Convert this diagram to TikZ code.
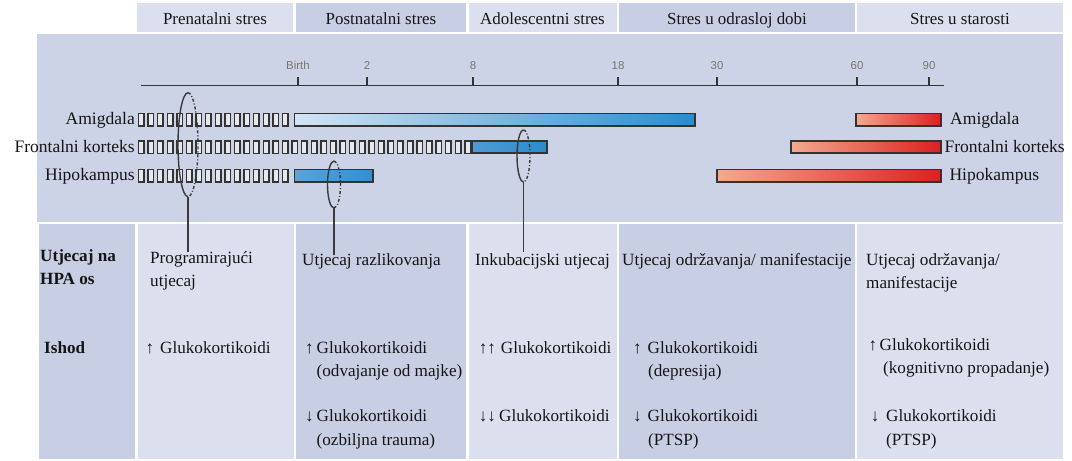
\documentclass[tikz,border=0pt]{standalone}
\usepackage{fontspec}
\setmainfont{Liberation Serif}
\newfontfamily\axisfont{Liberation Sans}
\definecolor{ink}{HTML}{151515}
\definecolor{panel}{HTML}{CDD3E6}
\definecolor{cl}{HTML}{DCE0EE}
\definecolor{cd}{HTML}{C8CEE3}
\definecolor{outl}{HTML}{333333}
\definecolor{boxc}{HTML}{E6E8EF}
\definecolor{linec}{HTML}{3A3A3A}
\definecolor{tickc}{HTML}{7D7470}
\definecolor{bA}{HTML}{D2E4F4}
\definecolor{bB}{HTML}{2A8CCC}
\definecolor{bC}{HTML}{4E9BD3}
\definecolor{bD}{HTML}{5DA3D6}
\definecolor{bE}{HTML}{338FCD}
\definecolor{rA}{HTML}{F3A98E}
\definecolor{rB}{HTML}{DC2020}
\begin{document}
\begin{tikzpicture}[x=1bp,y=-1bp,
  txt/.style={font=\fontsize{17.2}{21}\selectfont, text=ink, inner sep=0pt, anchor=base west},
  hdr/.style={font=\fontsize{17}{20}\selectfont, text=ink, inner sep=0pt, anchor=base},
  lbl/.style={font=\fontsize{17.6}{21}\selectfont, text=ink, inner sep=0pt},
  tck/.style={font=\axisfont\fontsize{11.5}{13}\selectfont, text=tickc, inner sep=0pt, anchor=base},
  seg/.style={draw=outl, line width=1.5bp, fill=boxc},
  bar/.style={draw=outl, line width=1.6bp},
  ring/.style={draw=linec, line width=1.4bp},
  ringdash/.style={draw=linec, line width=1.4bp, dash pattern=on 3bp off 2bp on 1bp off 2bp},
  stem/.style={draw=linec, line width=1.6bp},
  axisline/.style={draw=outl, line width=1.5bp}]
\useasboundingbox (0,0) rectangle (1072,461);
% header cells
\fill[cl] (136.7,3.3) rectangle (293,32.3);
\fill[cd] (295.5,3.3) rectangle (466,32.3);
\fill[cl] (468.5,3.3) rectangle (616.5,32.3);
\fill[cd] (619,3.3) rectangle (855,32.3);
\fill[cl] (857,3.3) rectangle (1062.7,32.3);
% panel
\fill[panel] (37.3,34.3) rectangle (1062.7,221.7);
% bottom cells
\fill[cd] (38.5,224) rectangle (135,459.3);
\fill[cl] (138,224) rectangle (293.5,459.3);
\fill[cd] (296,224) rectangle (466,459.3);
\fill[cl] (468.5,224) rectangle (616.5,459.3);
\fill[cd] (619,224) rectangle (855,459.3);
\fill[cl] (857,224) rectangle (1062.7,459.3);
% header texts
\node[hdr] (h1) at (215,25) {Prenatalni stres};
\node[hdr] (h2) at (381,25) {Postnatalni stres};
\node[hdr] (h3) at (542.5,25) {Adolescentni stres};
\node[hdr] (h4) at (737,25) {Stres u odrasloj dobi};
\node[hdr] (h5) at (960,25) {Stres u starosti};
% axis
\draw[axisline] (140.7,85.7) -- (944,85.7);
\foreach \xx/\tl/\nm in {298/Birth/tb,367/2/t2,473/8/t8,618/18/t18,717/30/t30,857/60/t60,929/90/t90}{
  \draw[axisline] (\xx,85.7) -- (\xx,76.7);
  \node[tck] (\nm) at (\xx,69.5) {\tl};
}
% segmented boxes
\foreach \i in {0,...,15}{\draw[seg] ({138.5+9.6*\i},113.5) rectangle ++(5.5,12.5);}
\foreach \i in {0,...,34}{\draw[seg] ({138.5+9.6*\i},140.8) rectangle ++(5.5,12.5);}
\foreach \i in {0,...,15}{\draw[seg] ({138.5+9.6*\i},169.5) rectangle ++(5.5,12.5);}
% blue bars
\draw[bar, left color=bA, right color=bB] (294.3,113.5) rectangle (695,126);
\draw[bar, left color=bC, right color=bB] (471.7,140.8) rectangle (547,153.3);
\draw[bar, left color=bD, right color=bE] (294.3,169.5) rectangle (372.7,182);
% red bars
\draw[bar, left color=rA, right color=rB] (856,113.5) rectangle (941,126);
\draw[bar, left color=rA, right color=rB] (791,140.8) rectangle (941,153.3);
\draw[bar, left color=rA, right color=rB] (717,169.5) rectangle (941,182);
% row labels
\node[lbl, anchor=base east] (la) at (135,125) {Amigdala};
\node[lbl, anchor=base east] (lf) at (135,152.3) {Frontalni korteks};
\node[lbl, anchor=base east] (lh) at (135,181) {Hipokampus};
\node[lbl, anchor=base west] (ra) at (950,125) {Amigdala};
\node[lbl, anchor=base west] (rf) at (944.3,152.3) {Frontalni korteks};
\node[lbl, anchor=base west] (rh) at (949.3,181) {Hipokampus};
% ellipses and stems
\draw[ring] (188,196.7) arc[start angle=90,end angle=270,x radius=10,y radius=52];
\draw[ringdash] (188,92.7) arc[start angle=270,end angle=450,x radius=10,y radius=52];
\coordinate (e1b) at (188,196.7);
\coordinate (e1e) at (188,252);
\draw[stem] (e1b) -- (e1e);
\draw[ring] (334,208) arc[start angle=90,end angle=270,x radius=6.5,y radius=23.5];
\draw[ringdash] (334,161) arc[start angle=270,end angle=450,x radius=6.5,y radius=23.5];
\coordinate (e2b) at (334,208);
\coordinate (e2e) at (334,255);
\draw[stem] (e2b) -- (e2e);
\draw[ring] (523.5,182) arc[start angle=90,end angle=270,x radius=6.5,y radius=26];
\draw[ringdash] (523.5,130) arc[start angle=270,end angle=450,x radius=6.5,y radius=26];
\coordinate (e3b) at (523.5,182);
\coordinate (e3e) at (523.5,252);
\draw[stem] (e3b) -- (e3e);
% bottom texts
\node[txt, font=\fontsize{17.2}{21}\selectfont\bfseries] (c0a) at (40,262) {Utjecaj na};
\node[txt, font=\fontsize{17.2}{21}\selectfont\bfseries] (c0b) at (40,285) {HPA os};
\node[txt, font=\fontsize{17.2}{21}\selectfont\bfseries] (c0c) at (44,354) {Ishod};
\node[txt] (c1a) at (150,264) {Programirajući};
\node[txt] (c1b) at (150,287) {utjecaj};
\node[txt] (c1u) at (145.5,354) {↑};
\node[txt] (c1g) at (160,354) {Glukokortikoidi};
\node[txt] (c2a) at (302,266) {Utjecaj razlikovanja};
\node[txt] (c2u) at (305,354) {↑};
\node[txt] (c2g) at (316.5,354) {Glukokortikoidi};
\node[txt] (c2h) at (316.5,377) {(odvajanje od majke)};
\node[txt] (c2d) at (305,422) {↓};
\node[txt] (c2i) at (316.5,422) {Glukokortikoidi};
\node[txt] (c2j) at (316.5,445) {(ozbiljna trauma)};
\node[txt] (c3a) at (475,266) {Inkubacijski utjecaj};
\node[txt] (c3u) at (478.6,354) {↑↑};
\node[txt] (c3g) at (500.7,354) {Glukokortikoidi};
\node[txt] (c3d) at (478.6,422) {↓↓};
\node[txt] (c3i) at (499,422) {Glukokortikoidi};
\node[txt] (c4a) at (622,266) {Utjecaj održavanja/ manifestacije};
\node[txt] (c4u) at (633,354) {↑};
\node[txt] (c4g) at (647.5,354) {Glukokortikoidi};
\node[txt] (c4h) at (648,377) {(depresija)};
\node[txt] (c4d) at (633,422) {↓};
\node[txt] (c4i) at (647.5,422) {Glukokortikoidi};
\node[txt] (c4j) at (648,445) {(PTSP)};
\node[txt] (c5a) at (866,266) {Utjecaj održavanja/};
\node[txt] (c5b) at (866,289) {manifestacije};
\node[txt] (c5u) at (868.5,351) {↑};
\node[txt] (c5g) at (879.5,351) {Glukokortikoidi};
\node[txt] (c5h) at (883,374) {(kognitivno propadanje)};
\node[txt] (c5d) at (870.7,422) {↓};
\node[txt] (c5i) at (886,422) {Glukokortikoidi};
\node[txt] (c5j) at (886,445) {(PTSP)};
\end{tikzpicture}
\end{document}
